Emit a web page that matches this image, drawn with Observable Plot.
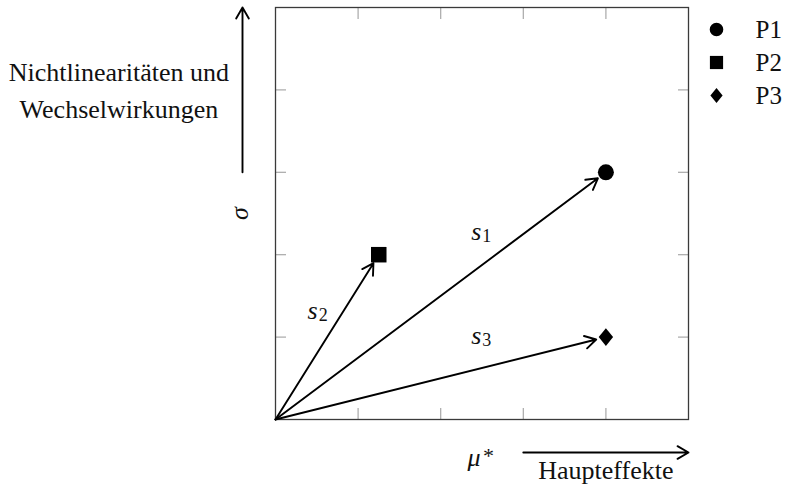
<!DOCTYPE html>
<html><head><meta charset="utf-8">
<script src="https://cdn.jsdelivr.net/npm/d3@7"></script>
<script src="https://cdn.jsdelivr.net/npm/@observablehq/plot@0.6"></script>
<style>
html,body{margin:0;padding:0;background:#fff;}
#wrap{position:relative;width:789px;height:486px;overflow:hidden;background:#fff;}
#wrap svg{position:absolute;overflow:visible;}
</style></head><body><div id="wrap"></div>
<script>
// ---- data ----
const names = ["P1", "P2", "P3"];
const muStar = [4, 1.25, 4];          // x values (μ*)
const sigma = [3, 2, 1];              // y values (σ)
const arrowLabels = ["1", "2", "3"];  // subscripts of s
const labelX = [2.43, 0.45, 2.43];    // label anchors (data units)
const labelY = [2.28, 1.32, 1.02];
const ticks = [1, 2, 3, 4];
const axisDomain = [0, 5];
const origin = [0, 0];
const xNameArrow = [3, 5];
const yNameArrow = [3, 5];
const xTitle = "Haupteffekte";
const yTitle = "Nichtlinearitäten und\nWechselwirkungen";

const points = names.map((n, i) => ({name: n, x: muStar[i], y: sigma[i], lab: arrowLabels[i], lx: labelX[i], ly: labelY[i]}));
const serif = "'Liberation Serif', 'Times New Roman', serif";

const sym = {
  circle: {draw(c, s) { const r = Math.sqrt(s / Math.PI); c.moveTo(r, 0); c.arc(0, 0, r, 0, 2 * Math.PI); }},
  square: {draw(c, s) { const r = Math.sqrt(s / Math.PI) * 0.97; c.rect(-r, -r, 2 * r, 2 * r); }},
  diamond: {draw(c, s) { const r = Math.sqrt(s / Math.PI); const h = r * 1.12, w = r * 0.9; c.moveTo(0, -h); c.lineTo(w, 0); c.lineTo(0, h); c.lineTo(-w, 0); c.closePath(); }}
};
const symbolScale = {domain: names, range: [sym.circle, sym.square, sym.diamond]};

const tickStyle = {tickSize: -11, stroke: "#a8a8a8", strokeWidth: 1.2, tickFormat: () => "", label: null};
const arrowStyle = {stroke: "black", strokeWidth: 1.9, headLength: 10, headAngle: 60};
const txt = {fontSize: 26, fill: "#111", lineAnchor: "middle"};

const chart = Plot.plot({
  width: 789, height: 486,
  marginLeft: 275, marginRight: 101, marginTop: 7, marginBottom: 67,
  x: {domain: axisDomain, label: null},
  y: {domain: axisDomain, label: null},
  symbol: symbolScale,
  style: {fontFamily: serif, background: "transparent", color: "#000"},
  marks: [
    Plot.axisX(ticks, {anchor: "bottom", ...tickStyle}),
    Plot.axisX(ticks, {anchor: "top", ...tickStyle}),
    Plot.axisY(ticks, {anchor: "left", ...tickStyle}),
    Plot.axisY(ticks, {anchor: "right", ...tickStyle}),
    Plot.frame({stroke: "#3a3a3a", strokeWidth: 1.3}),
    Plot.arrow(points, {x1: () => origin[0], y1: () => origin[1], x2: "x", y2: "y", insetEnd: 10, ...arrowStyle}),
    Plot.dot(points, {x: "x", y: "y", symbol: "name", fill: "black", stroke: "none", r: 8}),
    Plot.text(points, {x: "lx", y: "ly", text: () => "s", fontStyle: "italic", ...txt}),
    Plot.text(points, {x: "lx", y: "ly", text: "lab", dx: 10.5, dy: 5, ...txt, fontSize: 18}),
    // axis name arrows
    Plot.arrow([xNameArrow], {x1: d => d[0], x2: d => d[1], y1: () => axisDomain[0], y2: () => axisDomain[0], dy: 33, ...arrowStyle}),
    Plot.arrow([yNameArrow], {y1: d => d[0], y2: d => d[1], x1: () => axisDomain[0], x2: () => axisDomain[0], dx: -33, ...arrowStyle}),
    Plot.text([xTitle], {x: () => 4, frameAnchor: "bottom", dy: 50.7, ...txt}),
    Plot.text(["μ"], {x: () => 2.5, frameAnchor: "bottom", dx: -8, dy: 37.7, fontStyle: "italic", ...txt}),
    Plot.text(["*"], {x: () => 2.5, frameAnchor: "bottom", dx: 6.5, dy: 36, ...txt, fontSize: 22}),
    Plot.text([yTitle], {x: () => 0, y: () => 4, dx: -156.6, dy: -2, lineHeight: 1.42, ...txt}),
    Plot.text(["σ"], {x: () => 0, y: () => 2.5, dx: -36, rotate: -90, fontStyle: "italic", ...txt})
  ]
});
chart.style.left = "0px"; chart.style.top = "0px";
document.getElementById("wrap").appendChild(chart);

const legend = Plot.plot({
  width: 89, height: 100,
  marginLeft: 0, marginRight: 0, marginTop: 18, marginBottom: 15,
  x: {domain: [0, 1], axis: null},
  y: {type: "point", domain: names, axis: null, padding: 0},
  symbol: symbolScale,
  style: {fontFamily: serif, background: "transparent", color: "#000"},
  marks: [
    Plot.dot(names, {y: d => d, symbol: d => d, frameAnchor: "left", dx: 16, r: 6.8, fill: "black", stroke: "none"}),
    Plot.text(names, {y: d => d, frameAnchor: "left", dx: 55, textAnchor: "start", ...txt, fontSize: 25})
  ]
});
legend.style.left = "700px"; legend.style.top = "10px";
document.getElementById("wrap").appendChild(legend);
</script></body></html>
